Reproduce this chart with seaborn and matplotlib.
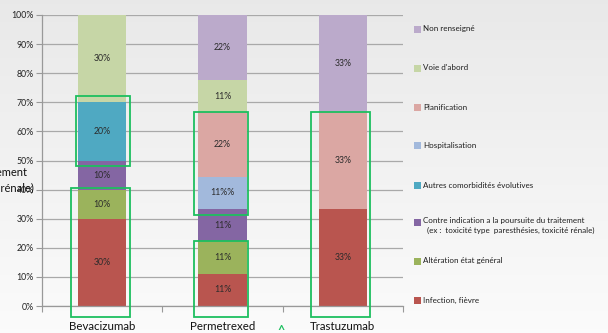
import numpy as np
import pandas as pd
import matplotlib
matplotlib.use("Agg")
import matplotlib.pyplot as plt
from matplotlib.patches import Rectangle
import seaborn as sns

# --- data -----------------------------------------------------------------
drugs = ["Bevacizumab", "Permetrexed", "Trastuzumab"]
causes = [
    "Infection, fièvre",
    "Altération état général",
    "Contre indication a la poursuite du traitement\n  (ex :  toxicité type  paresthésies, toxicité rénale)",
    "Autres comorbidités évolutives",
    "Hospitalisation",
    "Planification",
    "Voie d'abord",
    "Non renseigné",
]
# percentage of each cause per drug (stacked bottom to top)
bevacizumab = [30, 10, 10, 20, 0, 0, 30, 0]
permetrexed = [11.1, 11.1, 11.1, 0, 11.1, 22.2, 11.1, 22.2]
trastuzumab = [33.3, 0, 0, 0, 0, 33.3, 0, 33.3]
yticks = [0, 10, 20, 30, 40, 50, 60, 70, 80, 90, 100]

colors = ["#b9554f", "#9bb35c", "#8466a3", "#4fa9c2", "#a2b9dc",
          "#dba7a3", "#c6d6a6", "#bbaacb"]
box_green = "#1dbf5f"

values = np.array([bevacizumab, permetrexed, trastuzumab])  # drugs x causes

# --- figure ---------------------------------------------------------------
sns.set_theme(style="white")
plt.rcParams["font.family"] = ["Lato", "DejaVu Sans"]

fig = plt.figure(figsize=(6.08, 3.33), dpi=100)

# soft vertical background gradient
bg = fig.add_axes([0, 0, 1, 1], zorder=-10)
grad = np.linspace(0.913, 0.985, 256).reshape(-1, 1)
bg.imshow(np.dstack([grad, grad, grad]), aspect="auto", extent=[0, 1, 0, 1],
          origin="upper")
bg.set_axis_off()

ax = fig.add_axes([42 / 608, 27 / 333, 361 / 608, 291 / 333])
ax.set_facecolor("none")

# stacked bars: draw cumulative totals from the top layer down
cum = np.cumsum(values, axis=1)
for i in range(len(causes) - 1, -1, -1):
    df = pd.DataFrame({"drug": drugs, "total": cum[:, i]})
    sns.barplot(data=df, x="drug", y="total", color=colors[i], width=0.4,
                saturation=1, linewidth=0, ax=ax, zorder=2)

# segment value labels
for d in range(len(drugs)):
    for i in range(len(causes)):
        v = values[d, i]
        if v <= 0:
            continue
        mid = cum[d, i] - v / 2
        txt = f"{v:.0f}%"
        if drugs[d] == "Permetrexed" and causes[i] == "Hospitalisation":
            txt += "%"
        ax.text(d, mid, txt, ha="center", va="center", fontsize=6.3,
                color="#2b2b2b", zorder=4)

# highlighted groups of segments:
# (drug, first cause, last cause, pad left, pad right, bottom, pad top)
highlights = [(0, 3, 3, 0.216, 0.233, None, 2.2),
              (0, 0, 1, 0.26, 0.233, -3.7, 0.5),
              (1, 4, 5, 0.24, 0.21, None, 0),
              (1, 0, 1, 0.24, 0.21, -3.7, 0),
              (2, 0, 5, 0.265, 0.225, -3.7, 0)]
for d, lo, hi, padl, padr, bottom, pad_top in highlights:
    y1 = cum[d, hi] + pad_top
    y0 = bottom if bottom is not None else cum[d, lo] - values[d, lo] - 2.0
    ax.add_patch(Rectangle((d - padl, y0), padl + padr, y1 - y0, fill=False,
                           edgecolor=box_green, linewidth=1.3, zorder=5,
                           clip_on=False))

# axes styling
ax.set_xlim(-0.5, 2.5)
ax.set_ylim(0, 100)
ax.set_yticks(yticks)
ax.set_yticklabels([f"{t}%" for t in yticks], fontsize=6.3, color="#222222")
ax.yaxis.grid(True, color="#a9a9a9", linewidth=0.9, zorder=0)
ax.set_axisbelow(True)
ax.set_xlabel("")
ax.set_ylabel("")
ax.tick_params(axis="x", which="major", length=0, labelsize=8.3, pad=10.5,
               labelcolor="#111111")
ax.set_xticks([-0.5, 0.5, 1.5, 2.5], minor=True)
ax.tick_params(axis="x", which="minor", length=4, width=0.8, color="#999999",
               bottom=True, direction="out")
ax.tick_params(axis="y", length=4, width=0.8, color="#999999", left=True,
               direction="out", pad=2)
for side in ["top", "right"]:
    ax.spines[side].set_visible(False)
for side in ["left", "bottom"]:
    ax.spines[side].set_color("#999999")
    ax.spines[side].set_linewidth(0.9)

# legend on the right, top entry first
legend_y = {7: 29, 6: 68, 5: 107, 4: 145, 3: 185, 2: 222, 1: 261, 0: 300}
legend_fonts = ["Liberation Sans Narrow", "Lato", "DejaVu Sans"]
for i, ypx in legend_y.items():
    yf = 1 - ypx / 333
    fig.patches.append(Rectangle((414 / 608, yf - 3.5 / 333), 7 / 608, 7 / 333,
                                 transform=fig.transFigure,
                                 facecolor=colors[i], edgecolor="none"))
    if "\n" in causes[i]:
        fig.text(423 / 608, yf + 5 / 333, causes[i], fontsize=5.8,
                 family=legend_fonts, va="top", ha="left", color="#1e1e1e",
                 linespacing=1.45)
    else:
        fig.text(423 / 608, yf, causes[i], fontsize=5.8, family=legend_fonts,
                 va="center", ha="left", color="#1e1e1e")

# overflowing text at the left margin
fig.text(27 / 608, 1 - 173 / 333,
         "Contre indication a la poursuite du traitement", fontsize=8,
         ha="right", va="center", color="#111111")
fig.text(34 / 608, 1 - 188 / 333, "toxicité rénale)", fontsize=8,
         ha="right", va="center", color="#111111")

# small green marker below the axis
fig.text(281 / 608, 1 - 331 / 333, "^", fontsize=9, color=box_green,
         ha="center", va="center", fontweight="bold")

fig.savefig("out.png", dpi=100)
